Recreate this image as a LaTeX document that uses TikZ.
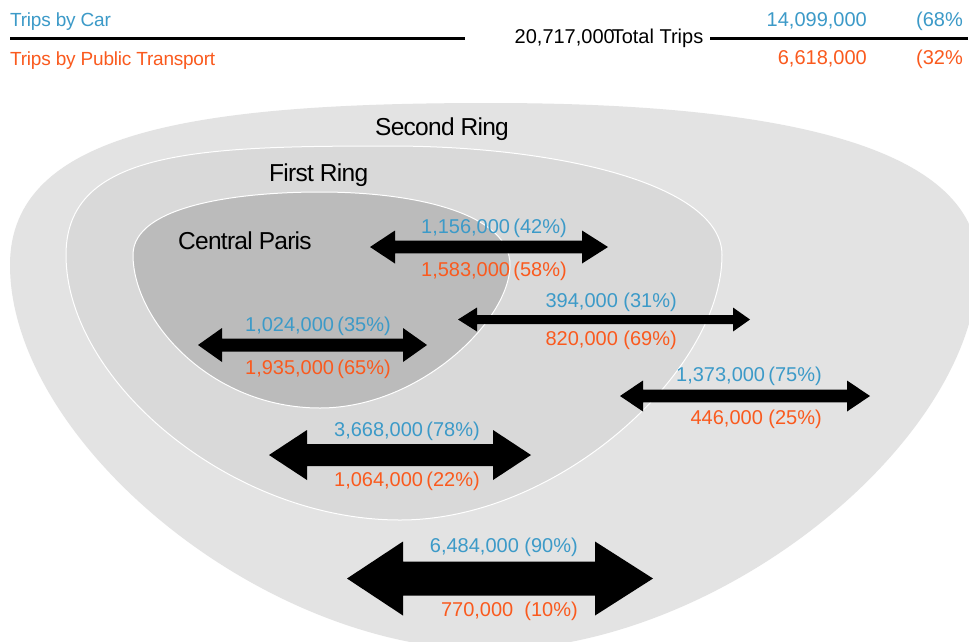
\documentclass[tikz,border=0pt]{standalone}
\usepackage{fontspec}
\setmainfont{Liberation Sans}
\definecolor{carblue}{HTML}{3C9AC8}
\definecolor{ptorange}{HTML}{FA5A1E}
\definecolor{ringout}{HTML}{E3E3E3}
\definecolor{ringfirst}{HTML}{D9D9D9}
\definecolor{ringcentral}{HTML}{BBBBBB}
\newcommand\dblarr[7]{%
  \fill[black] (#1,#5) -- (#2,#5-#6) -- (#2,#5-#7) -- (#3,#5-#7) -- (#3,#5-#6) -- (#4,#5)
    -- (#3,#5+#6) -- (#3,#5+#7) -- (#2,#5+#7) -- (#2,#5+#6) -- cycle;}
\tikzset{
  zone/.style={draw=white, line width=1pt},
  bluelbl/.style={text=carblue, inner sep=0pt, font=\fontsize{20}{24}\selectfont},
  orangelbl/.style={text=ptorange, inner sep=0pt, font=\fontsize{20}{24}\selectfont},
  hdrlbl/.style={inner sep=0pt, font=\fontsize{19}{23}\selectfont\addfontfeatures{LetterSpace=-1.2}},
  ringlbl/.style={text=black, inner sep=0pt, font=\fontsize{24.5}{28}\selectfont\addfontfeatures{LetterSpace=-3}},
  hdrline/.style={line width=2.6pt, black},
}
\begin{document}
\begin{tikzpicture}[x=1pt,y=-1pt]
\useasboundingbox (0,0) rectangle (969,641);
\fill[white] (0,0) rectangle (969,641);
\begin{scope}
\clip (0,0) rectangle (969,641);
% Second ring
\fill[ringout] (10,265) .. controls (10,130) and (200,103) .. (490,103)
  .. controls (760,103) and (978,140) .. (978,265)
  .. controls (978,440) and (720,650) .. (490,650)
  .. controls (260,650) and (10,440) .. (10,265) -- cycle;
% First ring
\filldraw[zone, fill=ringfirst] (66,255) .. controls (66,150) and (200,146) .. (390,146)
  .. controls (560,146) and (722,185) .. (722,255)
  .. controls (722,370) and (560,520) .. (400,520)
  .. controls (230,520) and (66,380) .. (66,255) -- cycle;
% Central Paris
\filldraw[zone, fill=ringcentral] (133,255) .. controls (133,205) and (240,192) .. (320,192)
  .. controls (420,192) and (510,215) .. (510,265)
  .. controls (510,320) and (420,408) .. (320,408)
  .. controls (210,408) and (133,320) .. (133,255) -- cycle;
\end{scope}
% header
\node[hdrlbl, text=carblue, anchor=base west] (hcar) at (10,26.5) {Trips by Car};
\node[hdrlbl, text=ptorange, anchor=base west] (hpt) at (10,65) {Trips by Public Transport};
\node[inner sep=0pt, anchor=base, font=\fontsize{20}{24}\selectfont] (htot) at (609,43.3) {20,717,000\kern-3pt Total Trips};
\coordinate (l1a) at (10,38.3);
\coordinate (l1b) at (465,38.3);
\coordinate (l2a) at (710,38.3);
\coordinate (l2b) at (968,38.3);
\draw[hdrline] (l1a) -- (l1b);
\draw[hdrline] (l2a) -- (l2b);
\node[bluelbl, anchor=base east] (hcarn) at (867,26) {14,099,000};
\node[bluelbl, anchor=base east] (hcarp) at (963,26) {(68\%};
\node[orangelbl, anchor=base east] (hptn) at (867,64.3) {6,618,000};
\node[orangelbl, anchor=base east] (hptp) at (963,64.3) {(32\%};
% ring labels
\node[ringlbl, anchor=base west] (lsecond) at (375,135) {Second Ring};
\node[ringlbl, anchor=base west] (lfirst) at (269,181.7) {First Ring};
\node[ringlbl, anchor=base west] (lcentral) at (178,249.3) {Central Paris};
% arrows
\dblarr{370}{395}{582}{608}{247}{16.5}{6.3}
\dblarr{198}{222}{403}{427}{345}{17}{6.5}
\dblarr{458}{477}{733}{750}{319.5}{12}{4.5}
\dblarr{620}{643}{847}{870}{396}{15.5}{6.3}
\dblarr{269}{307}{493}{531}{455}{25}{11}
\dblarr{347}{403}{595}{653}{578.5}{37}{17}
% labels
\node[bluelbl, anchor=base east] (a1c) at (567,233) {1,156,000\,(42\%)};
\node[orangelbl, anchor=base east] (a1p) at (567,276) {1,583,000\,(58\%)};
\node[bluelbl, anchor=base east] (a2c) at (391,331.7) {1,024,000\,(35\%)};
\node[orangelbl, anchor=base east] (a2p) at (391,374) {1,935,000\,(65\%)};
\node[bluelbl, anchor=base east] (a3c) at (677,307.7) {394,000 (31\%)};
\node[orangelbl, anchor=base east] (a3p) at (677,345) {820,000 (69\%)};
\node[bluelbl, anchor=base east] (a4c) at (822,381.7) {1,373,000\,(75\%)};
\node[orangelbl, anchor=base east] (a4p) at (822,424) {446,000 (25\%)};
\node[bluelbl, anchor=base east] (a5c) at (480,436) {3,668,000\,(78\%)};
\node[orangelbl, anchor=base east] (a5p) at (480,486.7) {1,064,000\,(22\%)};
\node[bluelbl, anchor=base east] (a6c) at (578,552.7) {6,484,000 (90\%)};
\node[orangelbl, anchor=base east] (a6p) at (578,616.7) {770,000\ \ (10\%)};
\end{tikzpicture}
\end{document}
